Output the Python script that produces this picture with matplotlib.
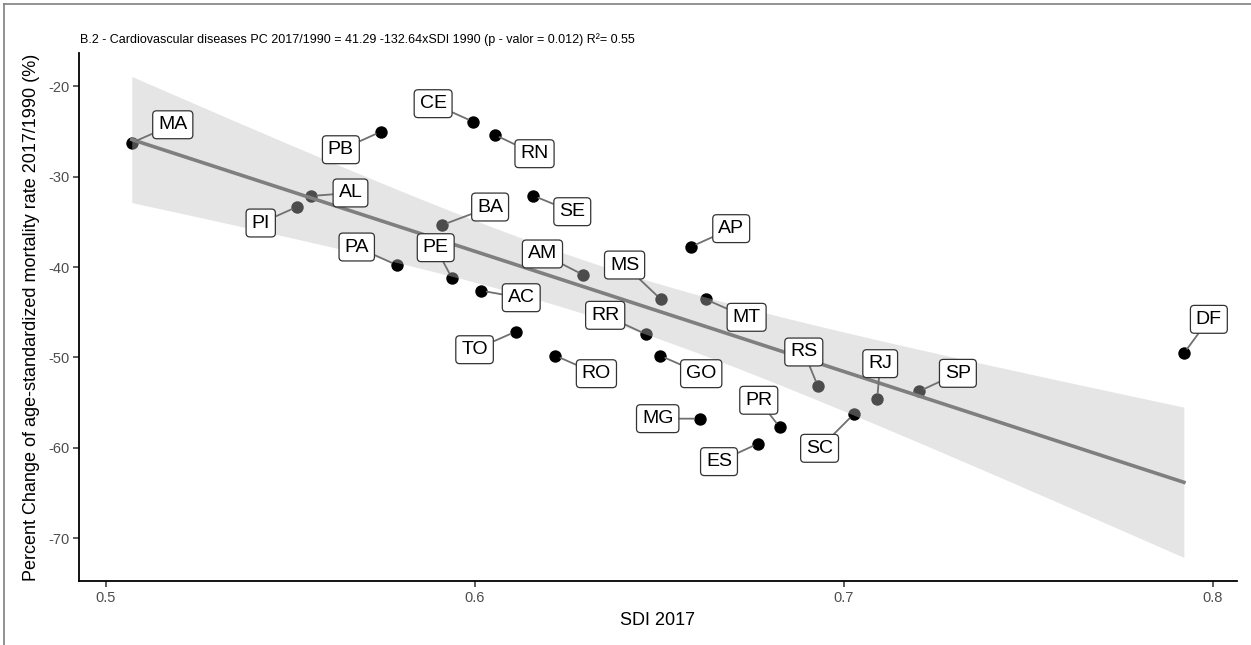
import numpy as np
import matplotlib
matplotlib.use("Agg")
import matplotlib.pyplot as plt
from matplotlib.lines import Line2D

# states, SDI 2017 and percent change of mortality rate 2017/1990
states = ["MA", "PB", "CE", "RN", "AL", "PI", "SE", "BA", "PA", "PE", "AC", "TO", "AM",
          "MS", "AP", "MT", "RR", "RO", "GO", "MG", "PR", "ES", "RS", "SC", "RJ", "SP", "DF"]
sdi = [0.507, 0.5745, 0.5995, 0.6053, 0.5557, 0.5517, 0.6158, 0.5911, 0.5788, 0.5937, 0.6017,
       0.6110, 0.6294, 0.6503, 0.6586, 0.6625, 0.6464, 0.6218, 0.6502, 0.6609, 0.6826, 0.6767,
       0.6929, 0.7026, 0.7090, 0.7203, 0.7921]
pc = [-26.27, -25.05, -23.94, -25.38, -32.15, -33.37, -32.12, -35.36, -39.78, -41.18, -42.62,
      -47.15, -40.88, -43.54, -37.75, -43.57, -47.44, -49.80, -49.80, -56.76, -57.71, -59.52,
      -53.15, -56.28, -54.55, -53.74, -49.54]

title = ("B.2 - Cardiovascular diseases PC 2017/1990 = 41.29 -132.64xSDI 1990 "
         "(p - valor = 0.012) R\u00b2= 0.55")

# label offsets (pixels, x right / y up) chosen to mimic the repelled labels
offsets = {
    "MA": (41, 18), "PB": (-40, -18), "CE": (-40, 18), "RN": (40, -19), "AL": (39, 3),
    "PI": (-36, -16), "SE": (39, -16), "BA": (48, 18), "PA": (-40, 18), "PE": (-16, 30),
    "AC": (40, -7), "TO": (-41, -18), "AM": (-41, 21), "MS": (-36, 34), "AP": (40, 18),
    "MT": (41, -18), "RR": (-41, 19), "RO": (41, -18), "GO": (41, -18), "MG": (-42, 0),
    "PR": (-21, 27), "ES": (-39, -18), "RS": (-14, 34), "SC": (-34, -34), "RJ": (3, 35),
    "SP": (39, 18), "DF": (25, 34),
}

plt.rcParams["font.family"] = ["Liberation Sans", "DejaVu Sans"]
plt.rcParams["axes.unicode_minus"] = False

x = np.array(sdi)
y = np.array(pc)

# linear fit with 95% confidence band (like geom_smooth(method = "lm"))
n = len(x)
b1, b0 = np.polyfit(x, y, 1)
resid = y - (b0 + b1 * x)
s = np.sqrt(np.sum(resid ** 2) / (n - 2))
t975 = 2.0595  # t quantile, df = 25
xs = np.linspace(x.min(), x.max(), 100)
ys = b0 + b1 * xs
se = s * np.sqrt(1 / n + (xs - x.mean()) ** 2 / np.sum((x - x.mean()) ** 2))

fig = plt.figure(figsize=(12.51, 6.45), dpi=100)
ax = fig.add_axes([79 / 1251, 1 - 581 / 645, (1237 - 79) / 1251, (581 - 53) / 645])

ax.scatter(x, y, s=80, color="black", zorder=2, linewidths=0)
ax.fill_between(xs, ys - t975 * se, ys + t975 * se, color="#bfbfbf", alpha=0.4,
                linewidth=0, zorder=3)
ax.plot(xs, ys, color="#7f7f7f", lw=2.6, zorder=4)

for lab, xi, yi in zip(states, sdi, pc):
    dx, dy = offsets[lab]
    ax.annotate(lab, (xi, yi), xytext=(dx, dy), textcoords="offset pixels",
                ha="center", va="center", fontsize=14, color="black", zorder=6,
                bbox=dict(boxstyle="round,pad=0.28,rounding_size=0.2", fc="white",
                          ec="#333333", lw=0.9),
                arrowprops=dict(arrowstyle="-", color="#707070", lw=1.3,
                                shrinkA=0, shrinkB=4))

ax.set_xlim(0.4927, 0.8065)
ax.set_ylim(-74.7, -16.35)
ax.set_xticks([0.5, 0.6, 0.7, 0.8])
ax.set_xticklabels(["0.5", "0.6", "0.7", "0.8"])
ax.set_yticks([-20, -30, -40, -50, -60, -70])

for sp in ["top", "right"]:
    ax.spines[sp].set_visible(False)
for sp in ["left", "bottom"]:
    ax.spines[sp].set_linewidth(1.3)
    ax.spines[sp].set_color("black")
ax.tick_params(axis="both", length=4, width=1.1, color="#333333",
               labelcolor="#4d4d4d", labelsize=10.5, pad=3)

ax.set_xlabel("SDI 2017", fontsize=13, labelpad=5)
ax.set_ylabel("Percent Change of age-standardized mortality rate 2017/1990 (%)",
              fontsize=13, labelpad=6)

fig.text(80 / 1251, 1 - 40 / 645, title, fontsize=9, ha="left", va="center")

# frame remains of the original panel border
fig.add_artist(Line2D([4 / 1251, 4 / 1251], [0, 1 - 4 / 645], color="#808080", lw=1.2))
fig.add_artist(Line2D([4 / 1251, 1], [1 - 4 / 645, 1 - 4 / 645], color="#808080", lw=1.2))

fig.savefig("out.png", dpi=100)
